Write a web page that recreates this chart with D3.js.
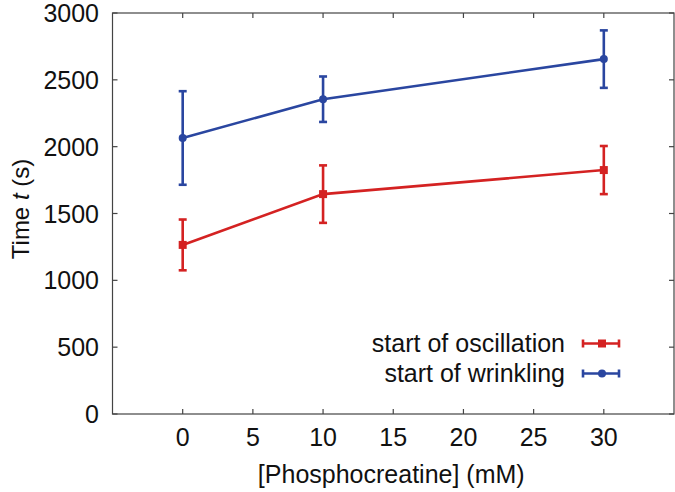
<!DOCTYPE html>
<html>
<head>
<meta charset="utf-8">
<script src="https://cdn.jsdelivr.net/npm/d3@7"></script>
<style>
  html, body { margin: 0; padding: 0; background: #fff; }
  svg text { font-family: "Liberation Sans", Arial, Helvetica, sans-serif; fill: #111; }
</style>
</head>
<body>
<svg id="chart" width="675" height="492"></svg>
<script>
// ---- data ----
const concentrations = [0, 10, 30];
const oscillationMean = [1265, 1645, 1825];
const oscillationErr = [190, 215, 180];
const wrinklingMean = [2065, 2355, 2655];
const wrinklingErr = [350, 170, 215];
const xTicks = [0, 5, 10, 15, 20, 25, 30];
const yTicks = [0, 500, 1000, 1500, 2000, 2500, 3000];
const seriesNames = ["start of oscillation", "start of wrinkling"];
const seriesColors = ["#d42222", "#2a46a0"];

// ---- layout ----
const svg = d3.select("#chart");
const L = 112.5, R = 674, T = 13, B = 414;
const x = d3.scaleLinear().domain([-5, 35]).range([L, R]);
const y = d3.scaleLinear().domain([0, 3000]).range([B, T]);
const axisColor = "#444";
const fontSize = 25;

// frame
svg.append("rect").attr("x", L).attr("y", T).attr("width", R - L).attr("height", B - T)
  .attr("fill", "none").attr("stroke", axisColor).attr("stroke-width", 1.2);

// ticks (inward on all sides)
const tickLen = 5;
xTicks.forEach(v => {
  svg.append("line").attr("x1", x(v)).attr("x2", x(v)).attr("y1", B).attr("y2", B - tickLen)
    .attr("stroke", axisColor).attr("stroke-width", 1.2);
  svg.append("line").attr("x1", x(v)).attr("x2", x(v)).attr("y1", T).attr("y2", T + tickLen)
    .attr("stroke", axisColor).attr("stroke-width", 1.2);
  svg.append("text").attr("x", x(v)).attr("y", 446).attr("text-anchor", "middle")
    .attr("font-size", fontSize).text(v);
});
yTicks.forEach(v => {
  svg.append("line").attr("x1", L).attr("x2", L + tickLen).attr("y1", y(v)).attr("y2", y(v))
    .attr("stroke", axisColor).attr("stroke-width", 1.2);
  svg.append("line").attr("x1", R).attr("x2", R - tickLen).attr("y1", y(v)).attr("y2", y(v))
    .attr("stroke", axisColor).attr("stroke-width", 1.2);
  svg.append("text").attr("x", 99).attr("y", y(v) + 9).attr("text-anchor", "end")
    .attr("font-size", fontSize).text(v);
});

// axis titles
svg.append("text").attr("x", (L + R) / 2 - 2).attr("y", 483).attr("text-anchor", "middle")
  .attr("font-size", fontSize).text("[Phosphocreatine] (mM)");
const yt = svg.append("text").attr("transform", "translate(29,209) rotate(-90)")
  .attr("text-anchor", "middle").attr("font-size", 24);
yt.append("tspan").text("Time ");
yt.append("tspan").attr("font-style", "italic").text("t");
yt.append("tspan").text(" (s)");

// series
const series = [
  { mean: oscillationMean, err: oscillationErr, color: seriesColors[0], marker: "square" },
  { mean: wrinklingMean, err: wrinklingErr, color: seriesColors[1], marker: "circle" }
];
const capW = 4;
const line = d3.line().x(d => x(d[0])).y(d => y(d[1]));
series.forEach(s => {
  const pts = concentrations.map((c, i) => [c, s.mean[i], s.err[i]]);
  svg.append("path").datum(pts).attr("d", line).attr("fill", "none")
    .attr("stroke", s.color).attr("stroke-width", 2.6);
  pts.forEach(p => {
    const cx = x(p[0]);
    const yt0 = y(p[1] + p[2]), yb0 = y(p[1] - p[2]);
    svg.append("line").attr("x1", cx).attr("x2", cx).attr("y1", yt0).attr("y2", yb0)
      .attr("stroke", s.color).attr("stroke-width", 2.6);
    [yt0, yb0].forEach(yy => svg.append("line").attr("x1", cx - capW).attr("x2", cx + capW)
      .attr("y1", yy).attr("y2", yy).attr("stroke", s.color).attr("stroke-width", 2.6));
    if (s.marker === "square") {
      svg.append("rect").attr("x", cx - 4).attr("y", y(p[1]) - 4).attr("width", 8).attr("height", 8)
        .attr("fill", s.color);
    } else {
      svg.append("circle").attr("cx", cx).attr("cy", y(p[1])).attr("r", 4).attr("fill", s.color);
    }
  });
});

// legend
const legY = [343.5, 373.5];
series.forEach((s, i) => {
  const ly = legY[i];
  svg.append("text").attr("x", 565).attr("y", ly + 8.5).attr("text-anchor", "end")
    .attr("font-size", fontSize).text(seriesNames[i]);
  const x1 = 583, x2 = 619, mx = 602;
  svg.append("line").attr("x1", x1).attr("x2", x2).attr("y1", ly).attr("y2", ly)
    .attr("stroke", s.color).attr("stroke-width", 2.6);
  [x1, x2].forEach(xx => svg.append("line").attr("x1", xx).attr("x2", xx)
    .attr("y1", ly - capW).attr("y2", ly + capW).attr("stroke", s.color).attr("stroke-width", 2.6));
  if (s.marker === "square") {
    svg.append("rect").attr("x", mx - 4).attr("y", ly - 4).attr("width", 8).attr("height", 8).attr("fill", s.color);
  } else {
    svg.append("circle").attr("cx", mx).attr("cy", ly).attr("r", 4).attr("fill", s.color);
  }
});
</script>
</body>
</html>
